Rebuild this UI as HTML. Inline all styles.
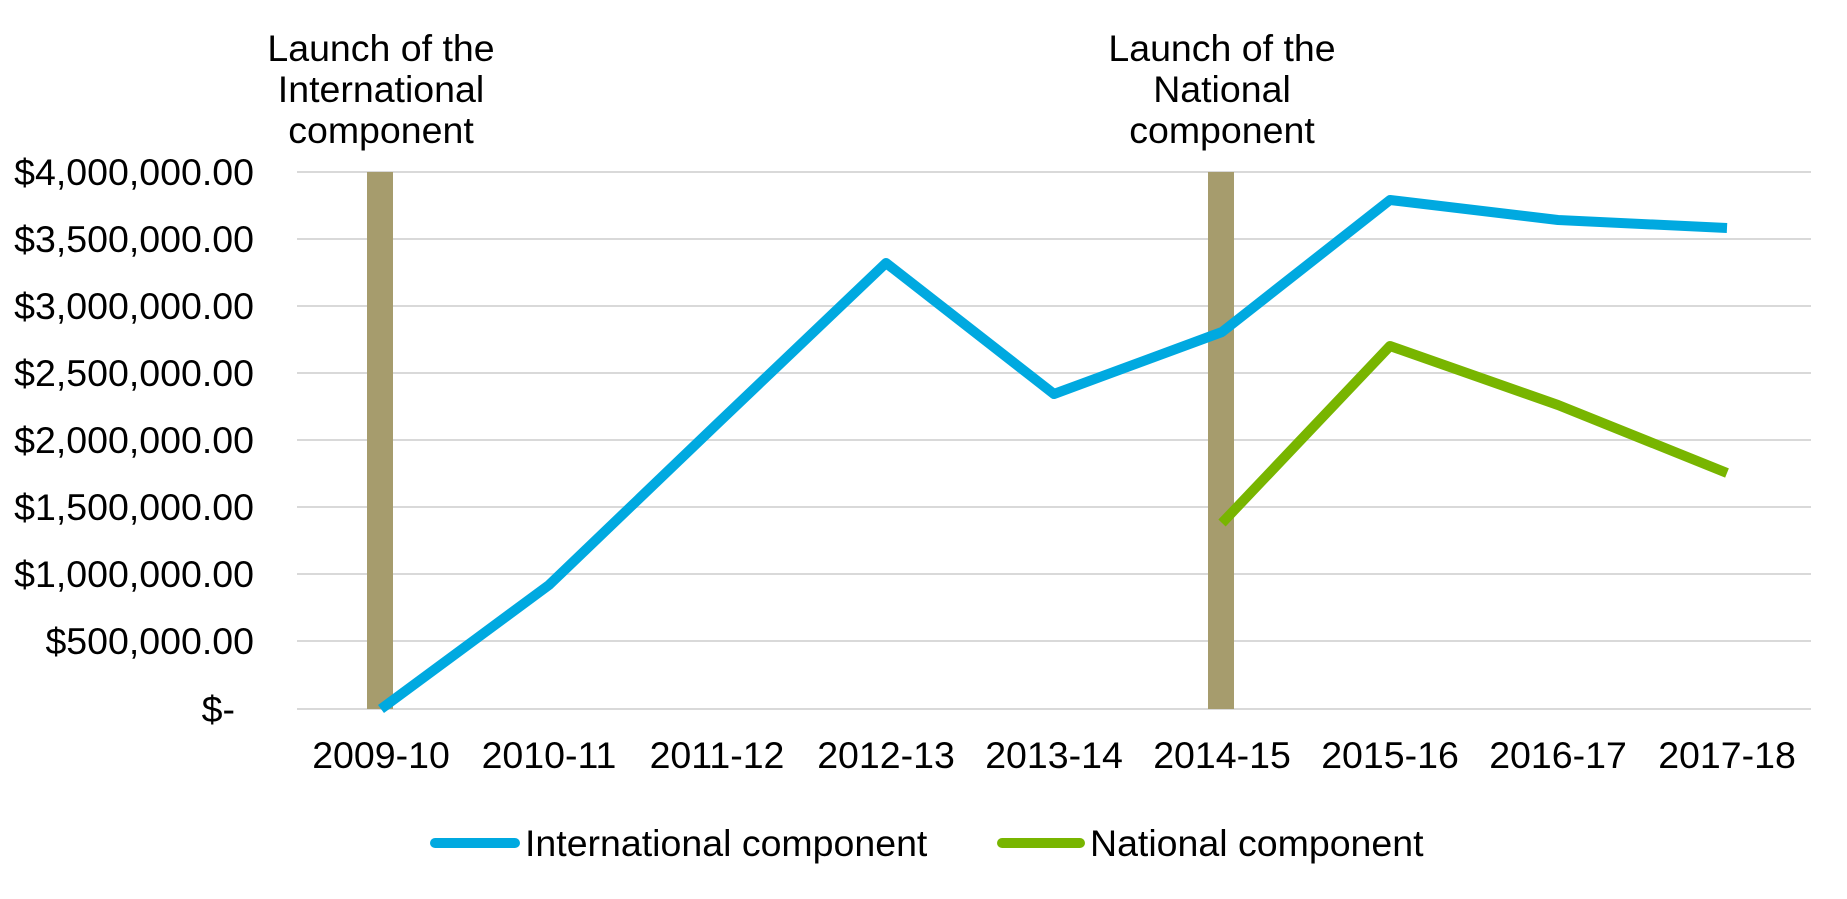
<!DOCTYPE html>
<html><head><meta charset="utf-8"><style>body{margin:0;background:#fff}svg{display:block}text{font-family:"Liberation Sans",Arial,sans-serif;font-size:37.5px;fill:#000}</style></head><body>
<svg width="1847" height="899" viewBox="0 0 1847 899">
<g stroke="#d9d9d9" stroke-width="2">
<line x1="297" x2="1811" y1="172" y2="172"/><line x1="297" x2="1811" y1="239" y2="239"/><line x1="297" x2="1811" y1="306" y2="306"/><line x1="297" x2="1811" y1="373" y2="373"/><line x1="297" x2="1811" y1="440" y2="440"/><line x1="297" x2="1811" y1="507" y2="507"/><line x1="297" x2="1811" y1="574" y2="574"/><line x1="297" x2="1811" y1="641" y2="641"/><line x1="297" x2="1811" y1="709" y2="709"/>
</g>
<rect x="367" y="172" width="26" height="537" fill="#a69c6d"/>
<rect x="1208" y="172" width="26" height="537" fill="#a69c6d"/>
<g text-anchor="end">
<text x="254" y="185">$4,000,000.00</text><text x="254" y="252">$3,500,000.00</text><text x="254" y="319">$3,000,000.00</text><text x="254" y="386">$2,500,000.00</text><text x="254" y="453">$2,000,000.00</text><text x="254" y="520">$1,500,000.00</text><text x="254" y="587">$1,000,000.00</text><text x="254" y="654">$500,000.00</text><text x="235" y="722">$-</text>
</g>
<g text-anchor="middle">
<text x="381" y="768">2009-10</text><text x="549" y="768">2010-11</text><text x="717" y="768">2011-12</text><text x="886" y="768">2012-13</text><text x="1054" y="768">2013-14</text><text x="1222" y="768">2014-15</text><text x="1390" y="768">2015-16</text><text x="1558" y="768">2016-17</text><text x="1727" y="768">2017-18</text>
<text x="381" y="61">Launch of the</text><text x="381" y="102">International</text><text x="381" y="143">component</text>
<text x="1222" y="61">Launch of the</text><text x="1222" y="102">National</text><text x="1222" y="143">component</text>
</g>
<polyline fill="none" stroke="#00a9e0" stroke-width="10" stroke-linejoin="round" points="381,709 549,585 717,424 886,263 1054,394 1222,332 1390,200 1558,220 1727,228"/>
<polyline fill="none" stroke="#78b500" stroke-width="10" stroke-linejoin="round" points="1222,523 1390,346 1558,405 1727,473"/>
<line x1="435" x2="515" y1="843" y2="843" stroke="#00a9e0" stroke-width="10" stroke-linecap="round"/>
<text x="525" y="856">International component</text>
<line x1="1002" x2="1080" y1="843" y2="843" stroke="#78b500" stroke-width="10" stroke-linecap="round"/>
<text x="1090" y="856">National component</text>
</svg></body></html>
